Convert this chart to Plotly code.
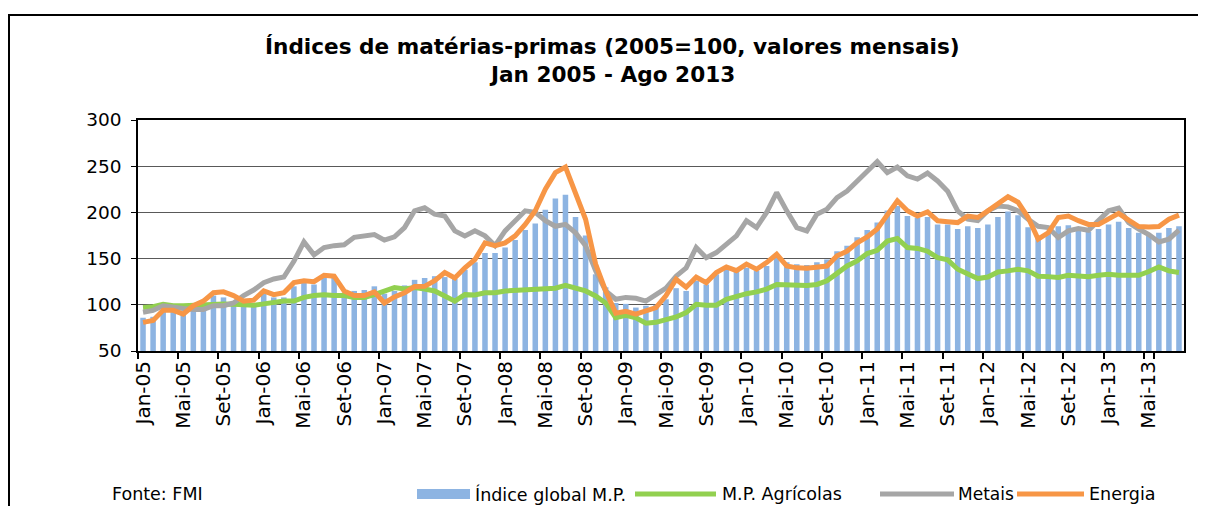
import plotly.graph_objects as go

months_pt = ["Jan", "Fev", "Mar", "Abr", "Mai", "Jun", "Jul", "Ago", "Set", "Out", "Nov", "Dez"]
categories = [f"{m}-{y:02d}" for y in range(5, 14) for m in months_pt][:104]
tick_labels = categories[::4]

indice_global = [86, 87, 93, 93, 90, 97, 95, 110, 108, 104, 101, 102,
                 113, 108, 108, 120, 124, 122, 129, 129, 113, 115, 116, 120,
                 112, 115, 121, 127, 129, 131, 130, 128, 138, 146, 156, 156,
                 162, 170, 181, 188, 203, 215, 219, 195, 175, 133, 119, 102,
                 101, 97, 99, 100, 106, 118, 115, 126, 122, 133, 140, 137,
                 140, 137, 142, 153, 146, 144, 143, 146, 149, 158, 164, 173,
                 181, 189, 202, 207, 196, 194, 195, 187, 187, 182, 185, 183,
                 187, 195, 201, 197, 184, 173, 178, 185, 186, 180, 179, 182,
                 187, 190, 183, 178, 175, 178, 183, 185]

agricolas = [97, 98, 100.5, 99, 99, 99.5, 100.5, 101, 101, 100.5, 99.5, 99.5,
             101, 103, 104, 104, 108, 110, 111, 110, 110, 108, 108, 111,
             115, 118.6, 117, 118.6, 117, 115, 109.6, 104, 111, 110.7, 113, 113,
             115, 115.7, 116.8, 116.8, 117.5, 118, 121, 117.5, 115, 109.6, 102, 86,
             88.6, 86, 80, 81, 84, 86.8, 91.5, 100.5, 99.5, 99.5, 106, 109.6,
             112, 114, 117, 122, 121.5, 122, 121, 122, 126, 134, 142, 147.5,
             155.5, 159, 169, 171.7, 162, 161, 158, 151, 148.6, 138.5, 133, 128.4,
             130, 135.6, 136.7, 138.5, 136.7, 131, 130.5, 129.5, 132, 131, 130.5, 132,
             133, 132, 132, 132, 136, 141, 136.7, 135]

metais = [92, 94, 99, 97, 96, 95, 95, 99, 99, 102, 110, 116,
          124, 128, 130, 147, 168, 154, 162, 164, 165, 173, 174, 176,
          170, 173.5, 183.6, 201.7, 205, 198, 196, 180, 174.6, 180, 174.6, 164,
          180, 191, 201.7, 200, 191, 185, 187, 178, 164, 137, 115, 106,
          108, 107, 104, 111, 118, 131, 140, 162, 151, 156.5, 165.6, 174.6,
          191, 183.6, 200, 221.5, 201.7, 183.6, 180, 198, 203.5, 216, 223, 234,
          245, 255, 243, 249, 239.6, 236, 242.5, 234, 223, 201.7, 192.6, 191,
          201.7, 207, 206, 201.7, 192.6, 185, 183.6, 172.8, 180, 182.5, 180.7, 191,
          201.7, 204.6, 189, 182, 176, 168, 171, 180.7]

energia = [81, 83, 94, 94, 90, 99, 104, 113, 114, 110, 104, 105,
           115, 111, 113, 124, 126, 125, 132, 131, 115, 110, 110, 114,
           102, 108.5, 113, 119.7, 120, 126, 135, 129, 140, 149, 167, 164,
           167, 174.6, 187, 201.7, 225, 243, 249, 221.5, 192.6, 144, 115, 91,
           93, 90, 93, 97, 110, 127.6, 119, 130, 124, 135, 141, 137,
           144, 138.5, 145.7, 154.7, 142, 140, 139.6, 141, 142, 153, 158, 167,
           173.5, 182, 198, 212.5, 201.7, 196, 200.5, 191, 190, 189, 196, 194.5,
           201.7, 209, 217, 211, 194.5, 171, 178, 194.5, 196, 191, 187, 187,
           193.7, 199, 191.6, 184.7, 184.3, 184.7, 192.6, 197]

series_names = ["Índice global M.P.", "M.P. Agrícolas", "Metais", "Energia"]
colors = ["#8DB4E2", "#92D050", "#A6A6A6", "#F79646"]

# page offset of the figure (browser body margin)
OFF = 8
W, H = 1190, 498
# plot area in page pixels
PL, PR, PT, PB = 138, 1184, 120, 351
L, R, T, B = PL - OFF, PR - OFF, PT - OFF, PB - OFF
pw, ph = R - L, B - T


def px(x_page):
    return (x_page - OFF - L) / pw


def py(y_page):
    return (B - (y_page - OFF)) / ph


FONT = "DejaVu Sans"

fig = go.Figure()
fig.add_trace(go.Bar(x=categories, y=indice_global, name=series_names[0],
                     marker=dict(color=colors[0], line=dict(width=0)), showlegend=False))
for name, vals, col in zip(series_names[1:], [agricolas, metais, energia], colors[1:]):
    fig.add_trace(go.Scatter(x=categories, y=vals, name=name, mode="lines",
                             line=dict(color=col, width=5), showlegend=False))

fig.update_layout(
    width=W, height=H,
    margin=dict(l=L, r=W - R, t=T, b=H - B, pad=0),
    paper_bgcolor="white", plot_bgcolor="white",
    bargap=0.45,
    font=dict(family=FONT, color="black"),
    xaxis=dict(type="category", tickvals=tick_labels, ticktext=tick_labels,
               tickson="boundaries", tickangle=-90, ticks="outside", ticklen=6,
               tickcolor="black", tickwidth=1.5,
               showline=True, linecolor="black", linewidth=2, mirror=True,
               showgrid=False, tickfont=dict(size=20, family=FONT)),
    yaxis=dict(range=[50, 300], tickvals=[50, 100, 150, 200, 250, 300],
               ticks="outside", ticklen=5, tickcolor="black", ticklabelstandoff=6,
               showline=True, linecolor="black", linewidth=1.5, mirror=True,
               showgrid=True, gridcolor="#595959", gridwidth=1, zeroline=False,
               tickfont=dict(size=18.5, family=FONT)),
)

annotations = [
    dict(text="<b>Índices de matérias-primas (2005=100, valores mensais)</b>",
         x=px(612), y=py(47), font=dict(size=21.6)),
    dict(text="<b>Jan 2005 - Ago 2013</b>", x=px(612), y=py(74), font=dict(size=21.6)),
    dict(text="Fonte: FMI", x=px(110), y=py(494), xanchor="left", font=dict(size=17.5)),
]
for a in annotations:
    a.setdefault("xanchor", "center")
    a.update(xref="paper", yref="paper", yanchor="middle", showarrow=False)

shapes = [dict(type="rect", xref="paper", yref="paper", x0=px(9), x1=px(1230),
               y0=py(540), y1=py(15), line=dict(color="black", width=2))]

leg_y = 494
legend_items = [(417, 470, 473), (635, 716, 720), (880, 954, 956), (1017, 1084, 1087)]
for i, ((s0, s1, tx), name, col) in enumerate(zip(legend_items, series_names, colors)):
    if i == 0:
        shapes.append(dict(type="rect", xref="paper", yref="paper", x0=px(s0), x1=px(s1),
                           y0=py(leg_y + 5), y1=py(leg_y - 5), fillcolor=col, line=dict(width=0)))
    else:
        shapes.append(dict(type="line", xref="paper", yref="paper", x0=px(s0), x1=px(s1),
                           y0=py(leg_y), y1=py(leg_y), line=dict(color=col, width=5)))
    annotations.append(dict(text=name, x=px(tx), y=py(leg_y), xref="paper", yref="paper",
                            xanchor="left", yanchor="middle", showarrow=False,
                            font=dict(size=17.5 if i != 2 else 17)))

fig.update_layout(annotations=annotations, shapes=shapes)
fig.write_html("out.html")
